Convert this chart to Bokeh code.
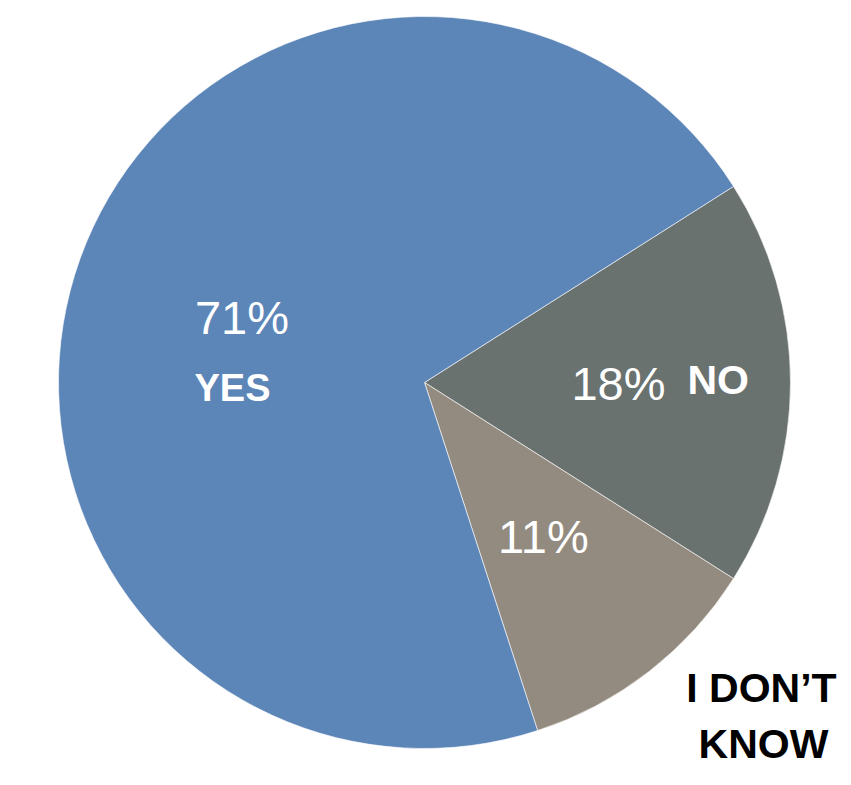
import numpy as np
from bokeh.plotting import figure
from bokeh.models import ColumnDataSource, Range1d
from bokeh.embed import file_html
from bokeh.resources import INLINE
from bokeh.core.properties import value

# ---- data ----
categories = ["NO", "I DON\u2019T KNOW", "YES"]
percent = [18, 11, 71]
pct_labels = ["18%", "11%", "71%"]
colors = ["#6a7270", "#938b80", "#5c85b8"]

# ---- layout ----
W, H = 843, 777
PAGE_H = 785
cx, cy_screen, R = 424, 382, 366
cy = PAGE_H - cy_screen

p = figure(width=W, height=H, output_backend="svg", toolbar_location=None,
           x_range=Range1d(0, W), y_range=Range1d(PAGE_H - H, PAGE_H),
           min_border=0, outline_line_color=None)
p.axis.visible = False
p.grid.visible = False
p.background_fill_color = "white"
p.border_fill_color = "white"

fr = np.array(percent, dtype=float) / sum(percent)
cur = np.pi * fr[0]  # first slice centred on 0 deg
lo, hi = [], []
for f in fr:
    hi.append(cur)
    cur = cur - f * 2 * np.pi
    lo.append(cur)
lo, hi = np.array(lo), np.array(hi)

src = ColumnDataSource(dict(start=lo, end=hi, color=colors, cat=categories))
p.wedge(x=cx, y=cy, radius=R, start_angle="start", end_angle="end",
        fill_color="color", line_color="white", line_alpha=0.6, line_width=1,
        source=src)

mid = (lo + hi) / 2
lr = 0.53 * R
px = cx + lr * np.cos(mid)
py = cy + lr * np.sin(mid)
p.text(x=px, y=py - 1, text=pct_labels, text_color="white",
       text_font=value("Liberation Sans"), text_font_size="47px",
       text_align="center", text_baseline="middle")

# category labels (screen-derived positions)
def sy(y):
    return PAGE_H - y

p.text(x=[232], y=[sy(387)], text=[categories[2]], text_color="white",
       text_font=value("Liberation Sans"), text_font_style="bold",
       text_font_size="38px", text_align="center", text_baseline="middle")
p.text(x=[687], y=[sy(379)], text=[categories[0]], text_color="white",
       text_font=value("Liberation Sans"), text_font_style="bold",
       text_font_size="41px", text_align="left", text_baseline="middle")
idk_lines = categories[1].rsplit(" ", 1)
p.text(x=[761, 763], y=[sy(687), sy(743)], text=idk_lines, text_color="black",
       text_font=value("Liberation Sans"), text_font_style="bold",
       text_font_size="41px", text_align="center", text_baseline="middle")

open("out.html", "w").write(file_html(p, INLINE))
